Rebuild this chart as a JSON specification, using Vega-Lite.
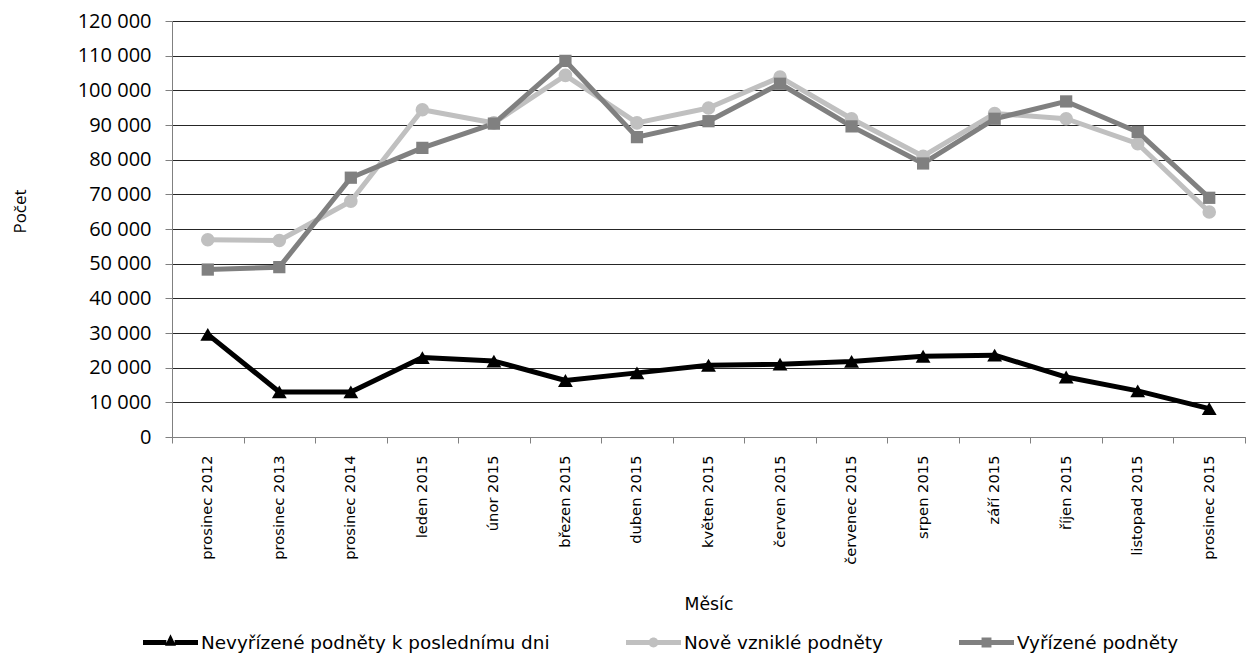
{
  "$schema": "https://vega.github.io/schema/vega-lite/v6.json",
  "autosize": {"type": "none"},
  "width": 1073,
  "height": 416,
  "padding": {"left": 172, "top": 21, "right": 14, "bottom": 222},
  "background": "white",
  "config": {"view": {"stroke": null}, "font": "DejaVu Sans"},
  "data": {
    "values": [
      {"mesic": "prosinec 2012", "serie": "Nevyřízené podněty k poslednímu dni", "pocet": 29600},
      {"mesic": "prosinec 2013", "serie": "Nevyřízené podněty k poslednímu dni", "pocet": 13000},
      {"mesic": "prosinec 2014", "serie": "Nevyřízené podněty k poslednímu dni", "pocet": 13000},
      {"mesic": "leden 2015", "serie": "Nevyřízené podněty k poslednímu dni", "pocet": 22900},
      {"mesic": "únor 2015", "serie": "Nevyřízené podněty k poslednímu dni", "pocet": 21900},
      {"mesic": "březen 2015", "serie": "Nevyřízené podněty k poslednímu dni", "pocet": 16300},
      {"mesic": "duben 2015", "serie": "Nevyřízené podněty k poslednímu dni", "pocet": 18500},
      {"mesic": "květen 2015", "serie": "Nevyřízené podněty k poslednímu dni", "pocet": 20700},
      {"mesic": "červen 2015", "serie": "Nevyřízené podněty k poslednímu dni", "pocet": 21000},
      {"mesic": "červenec 2015", "serie": "Nevyřízené podněty k poslednímu dni", "pocet": 21800},
      {"mesic": "srpen 2015", "serie": "Nevyřízené podněty k poslednímu dni", "pocet": 23300},
      {"mesic": "září 2015", "serie": "Nevyřízené podněty k poslednímu dni", "pocet": 23600},
      {"mesic": "říjen 2015", "serie": "Nevyřízené podněty k poslednímu dni", "pocet": 17300},
      {"mesic": "listopad 2015", "serie": "Nevyřízené podněty k poslednímu dni", "pocet": 13300},
      {"mesic": "prosinec 2015", "serie": "Nevyřízené podněty k poslednímu dni", "pocet": 8200},
      {"mesic": "prosinec 2012", "serie": "Nově vzniklé podněty", "pocet": 56900},
      {"mesic": "prosinec 2013", "serie": "Nově vzniklé podněty", "pocet": 56700},
      {"mesic": "prosinec 2014", "serie": "Nově vzniklé podněty", "pocet": 68000},
      {"mesic": "leden 2015", "serie": "Nově vzniklé podněty", "pocet": 94400},
      {"mesic": "únor 2015", "serie": "Nově vzniklé podněty", "pocet": 90600},
      {"mesic": "březen 2015", "serie": "Nově vzniklé podněty", "pocet": 104300},
      {"mesic": "duben 2015", "serie": "Nově vzniklé podněty", "pocet": 90600},
      {"mesic": "květen 2015", "serie": "Nově vzniklé podněty", "pocet": 94900},
      {"mesic": "červen 2015", "serie": "Nově vzniklé podněty", "pocet": 103800},
      {"mesic": "červenec 2015", "serie": "Nově vzniklé podněty", "pocet": 91800},
      {"mesic": "srpen 2015", "serie": "Nově vzniklé podněty", "pocet": 81000},
      {"mesic": "září 2015", "serie": "Nově vzniklé podněty", "pocet": 93300},
      {"mesic": "říjen 2015", "serie": "Nově vzniklé podněty", "pocet": 91800},
      {"mesic": "listopad 2015", "serie": "Nově vzniklé podněty", "pocet": 84600},
      {"mesic": "prosinec 2015", "serie": "Nově vzniklé podněty", "pocet": 64900},
      {"mesic": "prosinec 2012", "serie": "Vyřízené podněty", "pocet": 48300},
      {"mesic": "prosinec 2013", "serie": "Vyřízené podněty", "pocet": 49000},
      {"mesic": "prosinec 2014", "serie": "Vyřízené podněty", "pocet": 74800},
      {"mesic": "leden 2015", "serie": "Vyřízené podněty", "pocet": 83400},
      {"mesic": "únor 2015", "serie": "Vyřízené podněty", "pocet": 90400},
      {"mesic": "březen 2015", "serie": "Vyřízené podněty", "pocet": 108500},
      {"mesic": "duben 2015", "serie": "Vyřízené podněty", "pocet": 86500},
      {"mesic": "květen 2015", "serie": "Vyřízené podněty", "pocet": 91100},
      {"mesic": "červen 2015", "serie": "Vyřízené podněty", "pocet": 101900},
      {"mesic": "červenec 2015", "serie": "Vyřízené podněty", "pocet": 89600},
      {"mesic": "srpen 2015", "serie": "Vyřízené podněty", "pocet": 78900},
      {"mesic": "září 2015", "serie": "Vyřízené podněty", "pocet": 91800},
      {"mesic": "říjen 2015", "serie": "Vyřízené podněty", "pocet": 96800},
      {"mesic": "listopad 2015", "serie": "Vyřízené podněty", "pocet": 88000},
      {"mesic": "prosinec 2015", "serie": "Vyřízené podněty", "pocet": 69000}
    ]
  },
  "encoding": {
    "x": {
      "field": "mesic",
      "type": "nominal",
      "sort": ["prosinec 2012", "prosinec 2013", "prosinec 2014", "leden 2015", "únor 2015", "březen 2015", "duben 2015", "květen 2015", "červen 2015", "červenec 2015", "srpen 2015", "září 2015", "říjen 2015", "listopad 2015", "prosinec 2015"],
      "scale": {"type": "band", "paddingInner": 0, "paddingOuter": 0},
      "axis": {
        "title": "Měsíc",
        "labelAngle": -90,
        "labelAlign": "right",
        "labelBaseline": "middle",
        "labelFont": "DejaVu Sans",
        "labelFontSize": 14.7,
        "labelColor": "#000000",
        "labelPadding": 12,
        "tickSize": 6,
        "tickColor": "#808080",
        "domainColor": "#808080",
        "tickBand": "extent",
        "grid": false,
        "titleFont": "DejaVu Sans",
        "titleFontSize": 17.3,
        "titleFontWeight": "normal",
        "titleColor": "#000000",
        "titleY": 167,
        "titleBaseline": "middle"
      }
    },
    "y": {
      "field": "pocet",
      "type": "quantitative",
      "scale": {"domain": [0, 120000], "nice": false},
      "axis": {
        "title": "Počet",
        "titleX": -152,
        "titleY": 190,
        "titleAngle": -90,
        "titleAlign": "center",
        "titleBaseline": "middle",
        "titleFont": "Open Sans",
        "titleFontSize": 17,
        "titleFontWeight": "normal",
        "titleColor": "#000000",
        "values": [0, 10000, 20000, 30000, 40000, 50000, 60000, 70000, 80000, 90000, 100000, 110000, 120000],
        "format": ",d",
        "labelExpr": "replace(datum.label, ',', ' ')",
        "labelFont": "Open Sans",
        "labelFontSize": 20,
        "labelColor": "#000000",
        "labelPadding": 14,
        "tickSize": 7,
        "tickColor": "#808080",
        "domainColor": "#808080",
        "grid": true,
        "gridColor": "#262626",
        "gridWidth": 1
      }
    }
  },
  "layer": [
    {
      "mark": {"type": "line", "strokeWidth": 5, "strokeJoin": "round"},
      "encoding": {
        "stroke": {
          "field": "serie",
          "type": "nominal",
          "scale": {"domain": ["Nevyřízené podněty k poslednímu dni", "Nově vzniklé podněty", "Vyřízené podněty"], "range": ["#000000", "#c0c0c0", "#808080"]},
          "legend": null
        }
      }
    },
    {
      "mark": {"type": "point", "filled": true, "opacity": 1},
      "encoding": {
        "fill": {
          "field": "serie",
          "type": "nominal",
          "scale": {"domain": ["Nevyřízené podněty k poslednímu dni", "Nově vzniklé podněty", "Vyřízené podněty"], "range": ["#000000", "#c0c0c0", "#808080"]},
          "legend": null
        },
        "shape": {
          "field": "serie",
          "type": "nominal",
          "scale": {"domain": ["Nevyřízené podněty k poslednímu dni", "Nově vzniklé podněty", "Vyřízené podněty"], "range": ["triangle-up", "circle", "square"]},
          "legend": null
        },
        "size": {
          "field": "serie",
          "type": "nominal",
          "scale": {"domain": ["Nevyřízené podněty k poslednímu dni", "Nově vzniklé podněty", "Vyřízené podněty"], "range": [220, 150, 170]},
          "legend": null
        }
      }
    },
    {
      "transform": [{"filter": "datum.pocet < 0"}],
      "mark": {"type": "point", "filled": true, "opacity": 1, "size": 3025},
      "encoding": {
        "color": {
          "field": "serie",
          "type": "nominal",
          "scale": {"domain": ["Nevyřízené podněty k poslednímu dni", "Nově vzniklé podněty", "Vyřízené podněty"], "range": ["#000000", "#c0c0c0", "#808080"]},
          "legend": {
            "orient": "none", "legendX": -29, "legendY": 594, "direction": "horizontal", "columns": 3,
            "title": null, "labelFont": "DejaVu Sans", "labelFontSize": 18.4, "labelColor": "#000000",
            "symbolSize": 3025, "symbolStrokeWidth": 0, "columnPadding": 76, "labelOffset": 3, "padding": 0, "labelLimit": 600
          }
        },
        "shape": {
          "field": "serie",
          "type": "nominal",
          "scale": {
            "domain": ["Nevyřízené podněty k poslednímu dni", "Nově vzniklé podněty", "Vyřízené podněty"],
            "range": [
              "M-1,-0.09 L-0.15,-0.09 L-0.15,0.09 L-1,0.09 Z M0.15,-0.09 L1,-0.09 L1,0.09 L0.15,0.09 Z M0,-0.3 L0.2,0.12 L-0.2,0.12 Z",
              "M-1,-0.09 L-0.15,-0.09 L-0.15,0.09 L-1,0.09 Z M0.15,-0.09 L1,-0.09 L1,0.09 L0.15,0.09 Z M-0.18,0 A0.18,0.18 0 1,1 0.18,0 A0.18,0.18 0 1,1 -0.18,0 Z",
              "M-1,-0.09 L-0.15,-0.09 L-0.15,0.09 L-1,0.09 Z M0.15,-0.09 L1,-0.09 L1,0.09 L0.15,0.09 Z M-0.18,-0.18 L0.18,-0.18 L0.18,0.18 L-0.18,0.18 Z"
            ]
          },
          "legend": {
            "orient": "none", "legendX": -29, "legendY": 594, "direction": "horizontal", "columns": 3,
            "title": null, "labelFont": "DejaVu Sans", "labelFontSize": 18.4, "labelColor": "#000000",
            "symbolSize": 3025, "symbolStrokeWidth": 0, "columnPadding": 76, "labelOffset": 3, "padding": 0, "labelLimit": 600
          }
        }
      }
    }
  ],
  "resolve": {"scale": {"shape": "independent", "color": "independent"}}
}
